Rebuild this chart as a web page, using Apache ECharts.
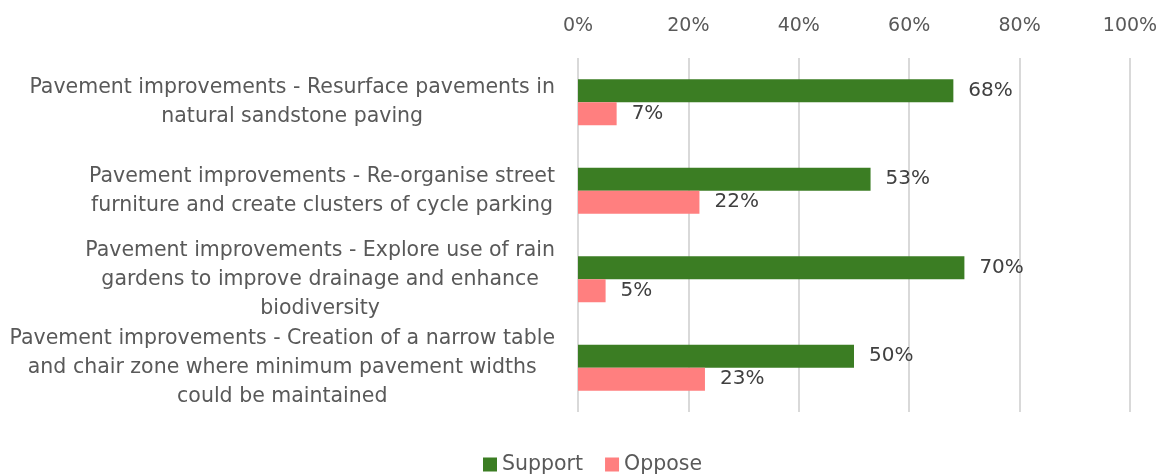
<!DOCTYPE html>
<html>
<head>
<meta charset="utf-8">
<script src="https://cdn.jsdelivr.net/npm/echarts@6/dist/echarts.min.js"></script>
<style>html,body{margin:0;padding:0;background:#fff}#c{width:1161px;height:474px}</style>
</head>
<body>
<div id="c"></div>
<script>
var categories = [
  "Pavement improvements - Resurface pavements in\nnatural sandstone paving",
  "Pavement improvements - Re-organise street\nfurniture and create clusters of cycle parking",
  "Pavement improvements - Explore use of rain\ngardens to improve drainage and enhance\nbiodiversity",
  "Pavement improvements - Creation of a narrow table\nand chair zone where minimum pavement widths\ncould be maintained"
];
var supportValues = [68, 53, 70, 50];
var opposeValues = [7, 22, 5, 23];
var tickValues = [0, 20, 40, 60, 80, 100];

var FONT = "'DejaVu Sans', 'Liberation Sans', sans-serif";
var TXT = '#595959';
var chart = echarts.init(document.getElementById('c'), null, {renderer: 'canvas'});
chart.setOption({
  animation: false,
  textStyle: {fontFamily: FONT},
  grid: {left: 578, right: 31, top: 58, bottom: 62, containLabel: false},
  legend: {
    top: 454, left: 483, padding: 0,
    itemWidth: 14, itemHeight: 14, itemGap: 22,
    icon: 'rect',
    textStyle: {fontSize: 20.5, color: TXT, fontFamily: FONT, lineHeight: 20},
    data: ['Support', 'Oppose']
  },
  xAxis: {
    type: 'value', position: 'top', min: tickValues[0], max: tickValues[tickValues.length - 1], interval: 20,
    axisLine: {show: false}, axisTick: {show: false},
    splitLine: {lineStyle: {color: '#d9d9d9', width: 2}},
    axisLabel: {formatter: '{value}%', fontSize: 19, color: TXT, margin: 22, fontFamily: FONT}
  },
  yAxis: {
    type: 'category', inverse: true, data: categories,
    axisLine: {show: false}, axisTick: {show: false},
    axisLabel: {
      margin: 23, fontSize: 20.5, color: TXT, fontFamily: FONT, lineHeight: 29,
      formatter: function (v) {
        return v.split('\n').map(function (l) { return '{c|' + l + '}'; }).join('\n');
      },
      rich: {c: {align: 'center', fontSize: 20.5, color: TXT, fontFamily: FONT, lineHeight: 29}}
    }
  },
  series: [
    {
      name: 'Support', type: 'bar', data: supportValues, barWidth: 23, barGap: '0%',
      itemStyle: {color: '#3B7D23'},
      label: {show: true, position: 'right', distance: 15, formatter: '{c}%', fontSize: 20, color: '#404040', fontFamily: FONT}
    },
    {
      name: 'Oppose', type: 'bar', data: opposeValues, barWidth: 23,
      itemStyle: {color: '#FF7F7F'},
      label: {show: true, position: 'right', distance: 15, formatter: '{c}%', fontSize: 20, color: '#404040', fontFamily: FONT}
    }
  ]
});
</script>
</body>
</html>
